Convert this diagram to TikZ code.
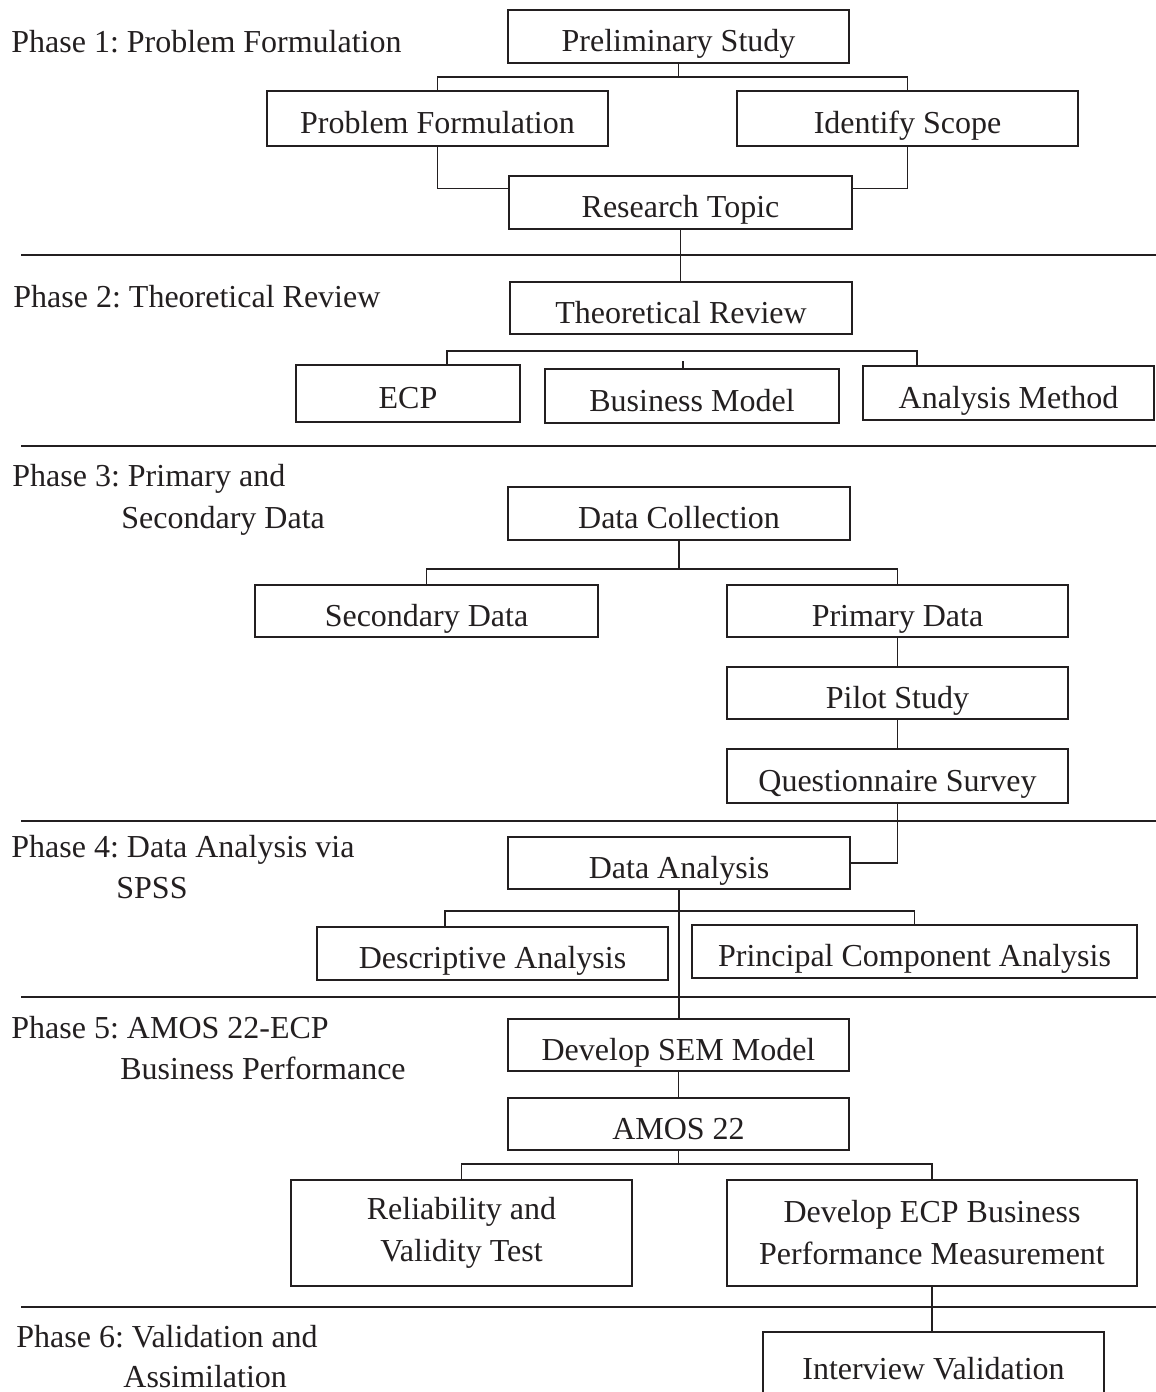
\documentclass[tikz,border=0pt]{standalone}
\usepackage{fontspec}
\setmainfont{Liberation Serif}
\usetikzlibrary{positioning}
\definecolor{ink}{HTML}{231F20}
\frenchspacing

\begin{document}
\begin{tikzpicture}[x=0.5pt, y=-0.5pt,
  stage/.style={draw=ink, line width=0.85pt, inner sep=0pt, text=ink,
                font=\fontsize{16}{21}\selectfont, text height=15.2pt, text depth=0pt},
  stage2/.style={draw=ink, line width=0.85pt, inner sep=0pt, text=ink,
                 font=\fontsize{16}{21}\selectfont, align=center},
  phase/.style={anchor=base west, inner sep=0pt, text=ink,
                font=\fontsize{16}{21}\selectfont},
  link/.style={draw=ink, line width=0.65pt},
  divider/.style={draw=ink, line width=0.9pt},
]
  \useasboundingbox (0,0) rectangle (1156,1392);

  % phase separators
  \foreach \y in {255,446,821,997,1307}
    \draw[divider] (21,\y) -- (1160,\y);

  % phase labels
  \node[phase] (ph1)  at (11,52)    {Phase 1: Problem Formulation};
  \node[phase] (ph2)  at (13,307)   {Phase 2: Theoretical Review};
  \node[phase] (ph3a) at (12,486)   {Phase 3: Primary and};
  \node[phase] (ph3b) at (121,528)  {Secondary Data};
  \node[phase] (ph4a) at (11,857)   {Phase 4: Data Analysis via};
  \node[phase] (ph4b) at (116,898)  {SPSS};
  \node[phase] (ph5a) at (11,1038)  {Phase 5: AMOS 22-ECP};
  \node[phase] (ph5b) at (120,1079) {Business Performance};
  \node[phase] (ph6a) at (16,1347)  {Phase 6: Validation and};
  \node[phase] (ph6b) at (123,1387) {Assimilation};

  % phase 1
  \node[stage, minimum width=170.5pt, minimum height=26.5pt] (prelim) at (678.5,36.5)  {Preliminary Study};
  \node[stage, minimum width=170.5pt, minimum height=27.5pt] (probf)  at (437.5,118.5) {Problem Formulation};
  \node[stage, minimum width=170.5pt, minimum height=27.5pt] (scope)  at (907.5,118.5) {Identify Scope};
  \node[stage, minimum width=171.5pt, minimum height=26.5pt] (topic)  at (680.5,202.5) {Research Topic};

  % phase 2
  \node[stage, minimum width=171pt,   minimum height=26pt]   (theory)  at (681,308)    {Theoretical Review};
  \node[stage, minimum width=112pt,   minimum height=28.5pt] (ecp)     at (408,393.5)  {ECP};
  \node[stage, minimum width=147pt,   minimum height=27pt]   (bmodel)  at (692,396)    {Business Model};
  \node[stage, minimum width=145.5pt, minimum height=27pt]   (amethod) at (1008.5,393) {Analysis Method};

  % phase 3
  \node[stage, minimum width=171pt,   minimum height=26.5pt] (collect) at (679,513.5) {Data Collection};
  \node[stage, minimum width=171.5pt, minimum height=26pt]   (second)  at (426.5,611) {Secondary Data};
  \node[stage, minimum width=170.5pt, minimum height=26pt]   (primary) at (897.5,611) {Primary Data};
  \node[stage, minimum width=170.5pt, minimum height=26pt]   (pilot)   at (897.5,693) {Pilot Study};
  \node[stage, minimum width=170.5pt, minimum height=27pt]   (survey)  at (897.5,776) {Questionnaire Survey};

  % phase 4
  \node[stage, minimum width=171pt,   minimum height=26pt]   (analysis) at (679,863)     {Data Analysis};
  \node[stage, minimum width=175.5pt, minimum height=26.5pt] (descr)    at (492.5,953.5) {Descriptive Analysis};
  \node[stage, minimum width=222.5pt, minimum height=26.5pt] (pca)      at (914.5,951.5) {Principal Component Analysis};

  % phase 5
  \node[stage,  minimum width=170.5pt, minimum height=26pt] (sem)   at (678.5,1045) {Develop SEM Model};
  \node[stage,  minimum width=170.5pt, minimum height=26pt] (amos)  at (678.5,1124) {AMOS 22};
  \node[stage2, minimum width=170.5pt, minimum height=53pt] (relia) at (461.5,1233) {Reliability and\\Validity Test};
  \node[stage2, minimum width=205pt,   minimum height=53pt] (perf)  at (932,1233)   {Develop ECP Business\\Performance Measurement};

  % phase 6
  \node[stage, minimum width=170.5pt, minimum height=32pt] (interview) at (933.5,1364) {Interview Validation};

  % connectors
  \coordinate (psplit) at (678.5,77);
  \draw[link] (prelim.south) -- (psplit);
  \draw[link] (probf.north) |- (psplit) -| (scope.north);
  \draw[link] (probf.south) |- ([yshift=-6.5pt]topic.north west);
  \draw[link] (scope.south) |- ([yshift=-6.5pt]topic.north east);
  \draw[link] (topic.south) -- (topic.south |- theory.north);

  \coordinate (tsplit) at (682,351);
  \draw[link] ([xshift=19.5pt]ecp.north) |- (tsplit) -| ([xshift=-45.75pt]amethod.north);
  \draw[link] ([xshift=-4.5pt]bmodel.north) -- ++(0,-7);

  \coordinate (csplit) at (679,569);
  \draw[link] (collect.south) -- (csplit);
  \draw[link] (second.north) |- (csplit) -| (primary.north);
  \draw[link] (primary) -- (pilot);
  \draw[link] (pilot) -- (survey);
  \draw[link] (survey.south) |- (analysis.east);

  \coordinate (asplit) at (679,911);
  \draw[link] (analysis.south) -- (analysis.south |- sem.north);
  \draw[link] ([xshift=-23.75pt]descr.north) |- (asplit) -| (pca.north);

  \draw[link] (sem) -- (amos);
  \coordinate (msplit) at (678.5,1164);
  \draw[link] (amos.south) -- (msplit);
  \draw[link] (relia.north) |- (msplit) -| (perf.north);
  \draw[link] (perf.south) -- (perf.south |- interview.north);
\end{tikzpicture}
\end{document}
